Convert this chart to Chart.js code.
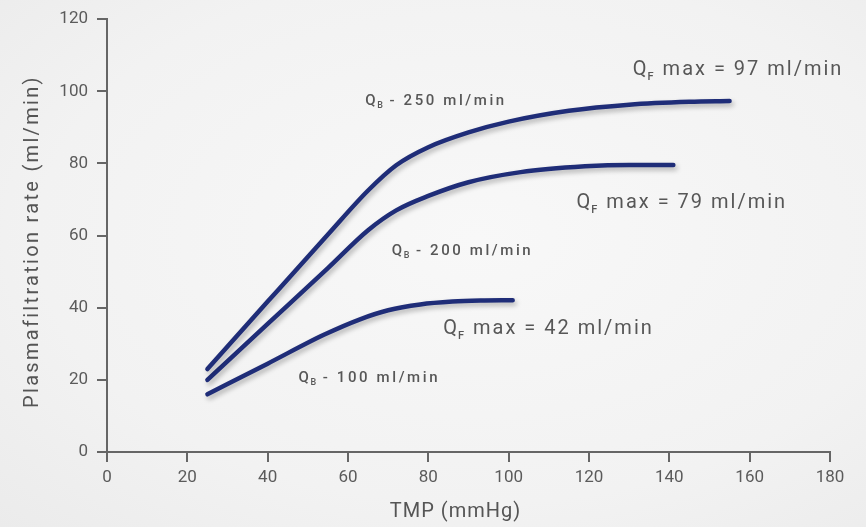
<!DOCTYPE html>
<html>
<head>
<meta charset="utf-8">
<title>Plasmafiltration rate vs TMP</title>
<script src="https://cdn.jsdelivr.net/npm/chart.js@4/dist/chart.umd.min.js"></script>
<style>
  html, body { margin: 0; padding: 0; }
  body {
    width: 866px; height: 527px; overflow: hidden;
    background: radial-gradient(ellipse at 55% 45%, #f8f8f8 0%, #f2f2f2 65%, #ebebeb 100%);
  }
  canvas { display: block; }
</style>
</head>
<body>
<canvas id="grafico" width="866" height="527"></canvas>
<script>
// curvas (TMP em mmHg, taxa em ml/min)
const tmp250 = [25, 40, 55, 65, 72, 80, 90, 100, 115, 130, 145, 155];
const taxa250 = [23, 41.7, 60.3, 72.5, 79.5, 84.5, 88.6, 91.6, 94.6, 96.3, 97.1, 97.3];

const tmp200 = [25, 40, 55, 65, 72, 80, 90, 103, 119, 130, 141];
const taxa200 = [20, 35.5, 51, 61.5, 67, 71, 74.8, 77.6, 79.2, 79.6, 79.6];

const tmp100 = [25, 40, 54, 63, 70, 78, 86, 93, 101];
const taxa100 = [16, 24.5, 32.5, 36.8, 39.3, 40.9, 41.7, 42, 42.1];

const eixoX = { min: 0, max: 180, passo: 20 };
const eixoY = { min: 0, max: 120, passo: 20 };

// rotulos das curvas, ancorados em coordenadas de dados
const rotulos = [
    { q: 'Q', sub: 'F', resto: 'max = 97 ml/min', x: 130.9, y: 104.6, grande: true },
    { q: 'Q', sub: 'B', resto: '- 250 ml/min', x: 64.3, y: 96.3, grande: false },
    { q: 'Q', sub: 'F', resto: 'max = 79 ml/min', x: 116.9, y: 67.7, grande: true },
    { q: 'Q', sub: 'B', resto: '- 200 ml/min', x: 70.9, y: 54.7, grande: false },
    { q: 'Q', sub: 'F', resto: 'max = 42 ml/min', x: 83.7, y: 32.7, grande: true },
    { q: 'Q', sub: 'B', resto: '- 100 ml/min', x: 47.7, y: 19.4, grande: false }
];

function pontos(xs, ys) {
    return xs.map((x, i) => ({ x: x, y: ys[i] }));
}

function curva(xs, ys) {
    return {
        data: pontos(xs, ys),
        showLine: true,
        borderColor: '#1f2d78',
        borderWidth: 4.5,
        borderCapStyle: 'round',
        pointRadius: 0,
        tension: 0.4,
        cubicInterpolationMode: 'monotone',
        clip: false
    };
}

function desenharRotulo(ctx, r, px, py) {
    const tam = r.grande ? 20 : 15;
    const tamSub = r.grande ? 11 : 9;
    const peso = r.grande ? '400 ' : '500 ';
    ctx.save();
    ctx.fillStyle = '#575757';
    ctx.textBaseline = 'alphabetic';
    ctx.textAlign = 'left';
    ctx.letterSpacing = r.grande ? '2px' : '2.6px';
    ctx.font = peso + tam + 'px Roboto';
    ctx.fillText(r.q, px, py);
    let x = px + ctx.measureText(r.q).width;
    ctx.font = '500 ' + tamSub + 'px Roboto';
    ctx.fillText(r.sub, x - 1, py + (r.grande ? 5 : 3));
    x += ctx.measureText(r.sub).width + (r.grande ? 6 : 3);
    ctx.font = peso + tam + 'px Roboto';
    ctx.fillText(r.resto, x, py);
    ctx.restore();
}

const sombra = {
    id: 'sombra',
    beforeDatasetsDraw(chart) {
        const ctx = chart.ctx;
        ctx.save();
        ctx.shadowColor = 'rgba(0, 0, 0, 0.28)';
        ctx.shadowBlur = 5;
        ctx.shadowOffsetX = 2;
        ctx.shadowOffsetY = 3;
    },
    afterDatasetsDraw(chart) {
        chart.ctx.restore();
    }
};

const textos = {
    id: 'textos',
    afterDraw(chart) {
        const ctx = chart.ctx;
        const sx = chart.scales.x, sy = chart.scales.y;
        rotulos.forEach(r => {
            desenharRotulo(ctx, r, sx.getPixelForValue(r.x), sy.getPixelForValue(r.y));
        });

        const area = chart.chartArea;
        ctx.save();
        ctx.fillStyle = '#555555';
        ctx.textAlign = 'center';
        ctx.textBaseline = 'middle';
        ctx.font = '20px Roboto';
        ctx.letterSpacing = '1px';
        ctx.fillText('TMP (mmHg)', (area.left + area.right) / 2 - 13, 512);

        ctx.letterSpacing = '2.3px';
        ctx.translate(33, (area.top + area.bottom) / 2 + 6);
        ctx.rotate(-Math.PI / 2);
        ctx.fillText('Plasmafiltration rate (ml/min)', 0, 0);
        ctx.restore();
    }
};

const corEixo = '#666666';
const fonteTicks = { family: 'Roboto', size: 17 };

new Chart(document.getElementById('grafico').getContext('2d'), {
    type: 'scatter',
    data: {
        datasets: [curva(tmp250, taxa250), curva(tmp200, taxa200), curva(tmp100, taxa100)]
    },
    options: {
        responsive: false,
        animation: false,
        layout: { padding: { top: 15, right: 36, left: 0, bottom: 0 } },
        plugins: {
            legend: { display: false },
            tooltip: { enabled: false }
        },
        scales: {
            x: {
                type: 'linear',
                min: eixoX.min,
                max: eixoX.max,
                ticks: { stepSize: eixoX.passo, color: '#5b5b5b', font: fonteTicks, padding: 6, maxRotation: 0 },
                grid: { drawOnChartArea: false, color: corEixo, lineWidth: 2, tickLength: 10 },
                border: { color: corEixo, width: 2 },
                afterFit: s => { s.height = 75; }
            },
            y: {
                type: 'linear',
                min: eixoY.min,
                max: eixoY.max,
                ticks: { stepSize: eixoY.passo, color: '#5b5b5b', font: fonteTicks, padding: 9 },
                grid: { drawOnChartArea: false, color: corEixo, lineWidth: 2, tickLength: 10 },
                border: { color: corEixo, width: 2 },
                afterFit: s => { s.width = 107; }
            }
        }
    },
    plugins: [sombra, textos]
});
</script>
</body>
</html>
